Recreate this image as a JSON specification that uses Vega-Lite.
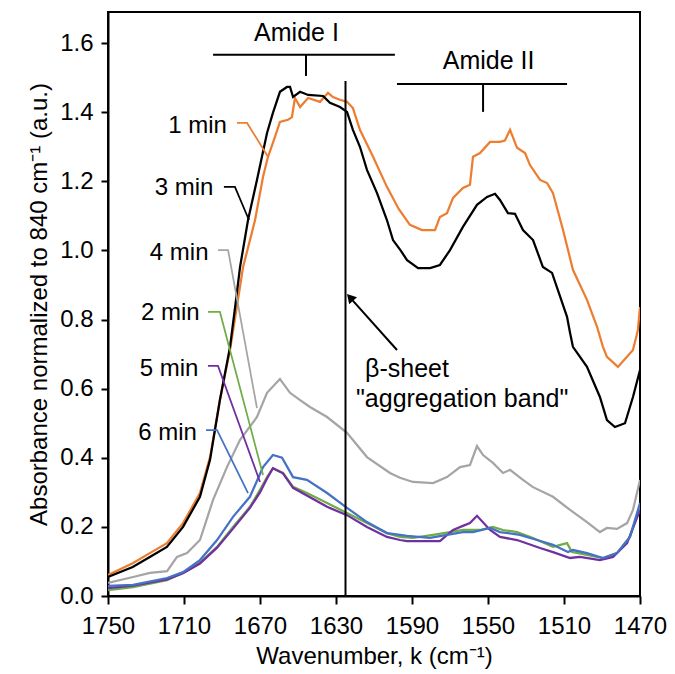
{
  "$schema": "https://vega.github.io/schema/vega-lite/v6.json",
  "width": 532,
  "height": 584,
  "autosize": {"type": "none"},
  "padding": {"left": 108, "top": 12, "right": 35, "bottom": 78},
  "background": "white",
  "config": {
    "font": "Liberation Sans",
    "view": {"stroke": "black", "strokeWidth": 2},
    "axis": {"grid": false, "domainColor": "black", "domainWidth": 2, "tickColor": "black", "tickWidth": 2, "labelColor": "black", "titleColor": "black", "labelFont": "Liberation Sans", "titleFont": "Liberation Sans", "titleFontWeight": "normal"}
  },
  "datasets": {
    "spectra": [
      {"s":"4 min","k":1750,"a":0.038},{"s":"4 min","k":1736.8,"a":0.055},{"s":"4 min","k":1727.9,"a":0.067},{"s":"4 min","k":1718.9,"a":0.072},{"s":"4 min","k":1713.7,"a":0.113},{"s":"4 min","k":1708.4,"a":0.124},{"s":"4 min","k":1701.6,"a":0.162},{"s":"4 min","k":1694.7,"a":0.278},{"s":"4 min","k":1687.4,"a":0.373},{"s":"4 min","k":1680.5,"a":0.452},{"s":"4 min","k":1671.6,"a":0.518},{"s":"4 min","k":1666.3,"a":0.588},{"s":"4 min","k":1659.5,"a":0.628},{"s":"4 min","k":1654.2,"a":0.588},{"s":"4 min","k":1648.9,"a":0.567},{"s":"4 min","k":1643.7,"a":0.547},{"s":"4 min","k":1634.7,"a":0.518},{"s":"4 min","k":1624.2,"a":0.472},{"s":"4 min","k":1613.7,"a":0.402},{"s":"4 min","k":1601.6,"a":0.356},{"s":"4 min","k":1596.3,"a":0.342},{"s":"4 min","k":1589.5,"a":0.33},{"s":"4 min","k":1578.9,"a":0.327},{"s":"4 min","k":1571.6,"a":0.344},{"s":"4 min","k":1564.7,"a":0.373},{"s":"4 min","k":1559.5,"a":0.379},{"s":"4 min","k":1555.8,"a":0.434},{"s":"4 min","k":1552.6,"a":0.408},{"s":"4 min","k":1547.4,"a":0.385},{"s":"4 min","k":1542.1,"a":0.356},{"s":"4 min","k":1538.4,"a":0.365},{"s":"4 min","k":1531.6,"a":0.336},{"s":"4 min","k":1526.3,"a":0.315},{"s":"4 min","k":1515.8,"a":0.287},{"s":"4 min","k":1506.8,"a":0.249},{"s":"4 min","k":1497.9,"a":0.214},{"s":"4 min","k":1491.1,"a":0.185},{"s":"4 min","k":1487.4,"a":0.197},{"s":"4 min","k":1482.1,"a":0.194},{"s":"4 min","k":1476.8,"a":0.211},{"s":"4 min","k":1473.7,"a":0.249},{"s":"4 min","k":1470,"a":0.336},
      {"s":"2 min","k":1750,"a":0.017},{"s":"2 min","k":1736.8,"a":0.026},{"s":"2 min","k":1718.9,"a":0.046},{"s":"2 min","k":1710.5,"a":0.067},{"s":"2 min","k":1701.6,"a":0.096},{"s":"2 min","k":1692.6,"a":0.142},{"s":"2 min","k":1684.2,"a":0.2},{"s":"2 min","k":1675.3,"a":0.258},{"s":"2 min","k":1670,"a":0.307},{"s":"2 min","k":1666.3,"a":0.344},{"s":"2 min","k":1663.2,"a":0.37},{"s":"2 min","k":1657.9,"a":0.356},{"s":"2 min","k":1652.6,"a":0.316},{"s":"2 min","k":1645.3,"a":0.298},{"s":"2 min","k":1634.7,"a":0.269},{"s":"2 min","k":1624.2,"a":0.24},{"s":"2 min","k":1613.7,"a":0.211},{"s":"2 min","k":1603.2,"a":0.182},{"s":"2 min","k":1596.3,"a":0.171},{"s":"2 min","k":1589.5,"a":0.168},{"s":"2 min","k":1578.9,"a":0.177},{"s":"2 min","k":1570,"a":0.185},{"s":"2 min","k":1563.2,"a":0.191},{"s":"2 min","k":1554.2,"a":0.191},{"s":"2 min","k":1547.4,"a":0.2},{"s":"2 min","k":1542.1,"a":0.191},{"s":"2 min","k":1534.7,"a":0.185},{"s":"2 min","k":1526.3,"a":0.168},{"s":"2 min","k":1515.8,"a":0.142},{"s":"2 min","k":1508.4,"a":0.153},{"s":"2 min","k":1505.8,"a":0.127},{"s":"2 min","k":1497.9,"a":0.119},{"s":"2 min","k":1489.5,"a":0.11},{"s":"2 min","k":1482.1,"a":0.124},{"s":"2 min","k":1475.3,"a":0.171},{"s":"2 min","k":1470,"a":0.258},
      {"s":"5 min","k":1750,"a":0.023},{"s":"5 min","k":1736.8,"a":0.03},{"s":"5 min","k":1718.9,"a":0.048},{"s":"5 min","k":1710.5,"a":0.066},{"s":"5 min","k":1701.6,"a":0.094},{"s":"5 min","k":1692.6,"a":0.14},{"s":"5 min","k":1684.2,"a":0.195},{"s":"5 min","k":1675.3,"a":0.255},{"s":"5 min","k":1670,"a":0.3},{"s":"5 min","k":1666.3,"a":0.34},{"s":"5 min","k":1663.2,"a":0.37},{"s":"5 min","k":1657.9,"a":0.355},{"s":"5 min","k":1652.6,"a":0.313},{"s":"5 min","k":1634.7,"a":0.258},{"s":"5 min","k":1624.2,"a":0.234},{"s":"5 min","k":1613.7,"a":0.2},{"s":"5 min","k":1603.2,"a":0.171},{"s":"5 min","k":1596.3,"a":0.162},{"s":"5 min","k":1592.6,"a":0.159},{"s":"5 min","k":1575.3,"a":0.159},{"s":"5 min","k":1568.4,"a":0.191},{"s":"5 min","k":1563.2,"a":0.203},{"s":"5 min","k":1559.5,"a":0.211},{"s":"5 min","k":1555.8,"a":0.232},{"s":"5 min","k":1548.9,"a":0.191},{"s":"5 min","k":1543.7,"a":0.171},{"s":"5 min","k":1534.7,"a":0.162},{"s":"5 min","k":1522.6,"a":0.139},{"s":"5 min","k":1515.8,"a":0.127},{"s":"5 min","k":1506.8,"a":0.11},{"s":"5 min","k":1501.6,"a":0.113},{"s":"5 min","k":1491.1,"a":0.104},{"s":"5 min","k":1484.2,"a":0.113},{"s":"5 min","k":1476.8,"a":0.153},{"s":"5 min","k":1470,"a":0.249},
      {"s":"6 min","k":1750,"a":0.029},{"s":"6 min","k":1736.8,"a":0.032},{"s":"6 min","k":1718.9,"a":0.052},{"s":"6 min","k":1710.5,"a":0.069},{"s":"6 min","k":1701.6,"a":0.104},{"s":"6 min","k":1692.6,"a":0.162},{"s":"6 min","k":1684.2,"a":0.229},{"s":"6 min","k":1675.3,"a":0.287},{"s":"6 min","k":1668.4,"a":0.373},{"s":"6 min","k":1663.2,"a":0.408},{"s":"6 min","k":1658.4,"a":0.4},{"s":"6 min","k":1652.6,"a":0.344},{"s":"6 min","k":1645.3,"a":0.336},{"s":"6 min","k":1634.7,"a":0.298},{"s":"6 min","k":1624.2,"a":0.255},{"s":"6 min","k":1613.7,"a":0.214},{"s":"6 min","k":1603.2,"a":0.182},{"s":"6 min","k":1596.3,"a":0.177},{"s":"6 min","k":1592.6,"a":0.174},{"s":"6 min","k":1580.5,"a":0.168},{"s":"6 min","k":1571.6,"a":0.177},{"s":"6 min","k":1563.2,"a":0.185},{"s":"6 min","k":1557.9,"a":0.185},{"s":"6 min","k":1548.9,"a":0.197},{"s":"6 min","k":1543.7,"a":0.185},{"s":"6 min","k":1533.2,"a":0.177},{"s":"6 min","k":1524.2,"a":0.162},{"s":"6 min","k":1515.8,"a":0.148},{"s":"6 min","k":1507.9,"a":0.127},{"s":"6 min","k":1505.3,"a":0.133},{"s":"6 min","k":1497.9,"a":0.124},{"s":"6 min","k":1489.5,"a":0.11},{"s":"6 min","k":1482.1,"a":0.124},{"s":"6 min","k":1475.3,"a":0.171},{"s":"6 min","k":1470,"a":0.269},
      {"s":"1 min","k":1750,"a":0.061},{"s":"1 min","k":1737,"a":0.095},{"s":"1 min","k":1728,"a":0.124},{"s":"1 min","k":1719,"a":0.153},{"s":"1 min","k":1710.5,"a":0.211},{"s":"1 min","k":1701.6,"a":0.298},{"s":"1 min","k":1696.3,"a":0.402},{"s":"1 min","k":1691.1,"a":0.567},{"s":"1 min","k":1685.8,"a":0.712},{"s":"1 min","k":1682.1,"a":0.84},{"s":"1 min","k":1678.9,"a":0.952},{"s":"1 min","k":1672.6,"a":1.088},{"s":"1 min","k":1668.4,"a":1.213},{"s":"1 min","k":1665.8,"a":1.271},{"s":"1 min","k":1663.2,"a":1.311},{"s":"1 min","k":1659.5,"a":1.372},{"s":"1 min","k":1655.3,"a":1.378},{"s":"1 min","k":1653.2,"a":1.386},{"s":"1 min","k":1651.6,"a":1.441},{"s":"1 min","k":1648.9,"a":1.415},{"s":"1 min","k":1644.7,"a":1.441},{"s":"1 min","k":1638.4,"a":1.43},{"s":"1 min","k":1634.2,"a":1.456},{"s":"1 min","k":1631.6,"a":1.444},{"s":"1 min","k":1627.9,"a":1.436},{"s":"1 min","k":1624.2,"a":1.43},{"s":"1 min","k":1621.1,"a":1.412},{"s":"1 min","k":1617.4,"a":1.349},{"s":"1 min","k":1610.5,"a":1.271},{"s":"1 min","k":1603.2,"a":1.184},{"s":"1 min","k":1597,"a":1.12},{"s":"1 min","k":1591.1,"a":1.074},{"s":"1 min","k":1584.7,"a":1.059},{"s":"1 min","k":1577.9,"a":1.059},{"s":"1 min","k":1575.3,"a":1.097},{"s":"1 min","k":1571.6,"a":1.108},{"s":"1 min","k":1568.4,"a":1.152},{"s":"1 min","k":1563.2,"a":1.181},{"s":"1 min","k":1559.5,"a":1.19},{"s":"1 min","k":1557.9,"a":1.271},{"s":"1 min","k":1554.2,"a":1.282},{"s":"1 min","k":1548.9,"a":1.314},{"s":"1 min","k":1543.7,"a":1.314},{"s":"1 min","k":1541.1,"a":1.318},{"s":"1 min","k":1538.4,"a":1.349},{"s":"1 min","k":1534.7,"a":1.297},{"s":"1 min","k":1530.5,"a":1.282},{"s":"1 min","k":1527.9,"a":1.247},{"s":"1 min","k":1522.6,"a":1.204},{"s":"1 min","k":1518.9,"a":1.195},{"s":"1 min","k":1515.8,"a":1.166},{"s":"1 min","k":1510.5,"a":1.059},{"s":"1 min","k":1505.3,"a":0.944},{"s":"1 min","k":1497.9,"a":0.857},{"s":"1 min","k":1492.6,"a":0.779},{"s":"1 min","k":1489.5,"a":0.721},{"s":"1 min","k":1487.4,"a":0.692},{"s":"1 min","k":1481.6,"a":0.663},{"s":"1 min","k":1473.7,"a":0.712},{"s":"1 min","k":1471.1,"a":0.77},{"s":"1 min","k":1470,"a":0.836},
      {"s":"3 min","k":1750,"a":0.055},{"s":"3 min","k":1737,"a":0.084},{"s":"3 min","k":1728,"a":0.113},{"s":"3 min","k":1719,"a":0.142},{"s":"3 min","k":1710.5,"a":0.2},{"s":"3 min","k":1701.6,"a":0.287},{"s":"3 min","k":1696.3,"a":0.394},{"s":"3 min","k":1691.1,"a":0.567},{"s":"3 min","k":1685.8,"a":0.72},{"s":"3 min","k":1683,"a":0.84},{"s":"3 min","k":1680.5,"a":0.952},{"s":"3 min","k":1676.3,"a":1.088},{"s":"3 min","k":1671.6,"a":1.204},{"s":"3 min","k":1666.3,"a":1.34},{"s":"3 min","k":1663.2,"a":1.398},{"s":"3 min","k":1659.5,"a":1.459},{"s":"3 min","k":1655.8,"a":1.473},{"s":"3 min","k":1654.2,"a":1.473},{"s":"3 min","k":1652.6,"a":1.444},{"s":"3 min","k":1648.9,"a":1.459},{"s":"3 min","k":1644.7,"a":1.45},{"s":"3 min","k":1636.8,"a":1.447},{"s":"3 min","k":1633.2,"a":1.427},{"s":"3 min","k":1627.9,"a":1.415},{"s":"3 min","k":1624.2,"a":1.401},{"s":"3 min","k":1621.1,"a":1.349},{"s":"3 min","k":1617.4,"a":1.3},{"s":"3 min","k":1613.7,"a":1.233},{"s":"3 min","k":1608.4,"a":1.166},{"s":"3 min","k":1603.2,"a":1.088},{"s":"3 min","k":1600,"a":1.03},{"s":"3 min","k":1596,"a":1.0},{"s":"3 min","k":1592.6,"a":0.972},{"s":"3 min","k":1586.8,"a":0.949},{"s":"3 min","k":1580.5,"a":0.949},{"s":"3 min","k":1575.3,"a":0.958},{"s":"3 min","k":1570,"a":1.001},{"s":"3 min","k":1563.2,"a":1.068},{"s":"3 min","k":1555.8,"a":1.132},{"s":"3 min","k":1550.5,"a":1.155},{"s":"3 min","k":1546.3,"a":1.164},{"s":"3 min","k":1543.7,"a":1.146},{"s":"3 min","k":1539.5,"a":1.108},{"s":"3 min","k":1535.8,"a":1.106},{"s":"3 min","k":1531.6,"a":1.059},{"s":"3 min","k":1526.3,"a":1.03},{"s":"3 min","k":1521.1,"a":0.952},{"s":"3 min","k":1516.3,"a":0.935},{"s":"3 min","k":1508.4,"a":0.808},{"s":"3 min","k":1506.8,"a":0.761},{"s":"3 min","k":1505.3,"a":0.721},{"s":"3 min","k":1497.9,"a":0.663},{"s":"3 min","k":1491.1,"a":0.576},{"s":"3 min","k":1487.4,"a":0.509},{"s":"3 min","k":1483.2,"a":0.489},{"s":"3 min","k":1477.9,"a":0.5},{"s":"3 min","k":1473.7,"a":0.576},{"s":"3 min","k":1470,"a":0.654}
    ],
    "leaders": [
      {"s":"1 min","i":0,"k":1682.1,"a":1.369},{"s":"1 min","i":1,"k":1676.8,"a":1.369},{"s":"1 min","i":2,"k":1665.8,"a":1.271},
      {"s":"3 min","i":0,"k":1689,"a":1.184},{"s":"3 min","i":1,"k":1683.2,"a":1.184},{"s":"3 min","i":2,"k":1675.8,"a":1.088},
      {"s":"4 min","i":0,"k":1692.1,"a":1.001},{"s":"4 min","i":1,"k":1686.8,"a":1.001},{"s":"4 min","i":2,"k":1671.6,"a":0.544},
      {"s":"2 min","i":0,"k":1697.4,"a":0.822},{"s":"2 min","i":1,"k":1691.1,"a":0.822},{"s":"2 min","i":2,"k":1668.4,"a":0.35},
      {"s":"5 min","i":0,"k":1697.4,"a":0.666},{"s":"5 min","i":1,"k":1692.1,"a":0.666},{"s":"5 min","i":2,"k":1670,"a":0.33},
      {"s":"6 min","i":0,"k":1698.4,"a":0.48},{"s":"6 min","i":1,"k":1692.6,"a":0.48},{"s":"6 min","i":2,"k":1676.3,"a":0.298}
    ],
    "labels": [
      {"t":"1 min","k":1687.4,"a":1.34},
      {"t":"3 min","k":1694.5,"a":1.161},
      {"t":"4 min","k":1697.1,"a":0.972},
      {"t":"2 min","k":1701.8,"a":0.798},
      {"t":"5 min","k":1702.4,"a":0.637},
      {"t":"6 min","k":1703.2,"a":0.452}
    ],
    "rules": [
      {"k":1694.7,"k2":1599,"a":1.566,"a2":1.566},
      {"k":1645.8,"k2":1645.8,"a":1.566,"a2":1.505},
      {"k":1597.9,"k2":1508.4,"a":1.482,"a2":1.482},
      {"k":1552.6,"k2":1552.6,"a":1.482,"a2":1.401},
      {"k":1625,"k2":1625,"a":0,"a2":1.49},
      {"k":1597.9,"k2":1621.5,"a":0.712,"a2":0.857}
    ],
    "amide": [
      {"t":"Amide I","k":1650.8,"a":1.606},
      {"t":"Amide II","k":1549.7,"a":1.525}
    ],
    "note": [
      {"t":"β-sheet","k":1614.7,"a":0.635},
      {"t":"\"aggregation band\"","k":1619.5,"a":0.548}
    ],
    "head": [{"k":1622.6,"a":0.864}],
    "minor": [
      {"k":1740},{"k":1730},{"k":1720},{"k":1710},{"k":1700},{"k":1690},{"k":1680},{"k":1670},{"k":1660},{"k":1650},{"k":1640},{"k":1630},{"k":1620},{"k":1610},{"k":1600},{"k":1590},{"k":1580},{"k":1570},{"k":1560},{"k":1550},{"k":1540},{"k":1530},{"k":1520},{"k":1510},{"k":1500},{"k":1490},{"k":1480}
    ]
  },
  "encoding": {
    "x": {"field": "k", "type": "quantitative", "scale": {"domain": [1470, 1750], "reverse": true, "nice": false, "zero": false},
      "axis": {"values": [1750, 1710, 1670, 1630, 1590, 1550, 1510, 1470], "format": "d", "title": "Wavenumber, k (cm⁻¹)", "labelFontSize": 24, "titleFontSize": 24, "tickSize": 8, "labelPadding": 10, "titlePadding": 6, "labelFlush": false, "labelOverlap": false}},
    "y": {"field": "a", "type": "quantitative", "scale": {"domain": [0, 1.69], "nice": false, "zero": true},
      "axis": {"values": [0, 0.2, 0.4, 0.6, 0.8, 1.0, 1.2, 1.4, 1.6], "format": ".1f", "title": "Absorbance normalized to 840 cm⁻¹ (a.u.)", "labelFontSize": 24, "titleFontSize": 24, "tickSize": 7, "labelPadding": 8, "titlePadding": 8, "labelFlush": false, "labelOverlap": false}}
  },
  "layer": [
    {
      "data": {"name": "spectra"},
      "mark": {"type": "line", "strokeWidth": 2.25, "clip": true},
      "encoding": {
        "color": {"field": "s", "type": "nominal", "legend": null,
          "scale": {"domain": ["1 min", "2 min", "3 min", "4 min", "5 min", "6 min"], "range": ["#ED7D31", "#70AD47", "#000000", "#A5A5A5", "#7030A0", "#4472C4"]}}
      }
    },
    {
      "data": {"name": "leaders"},
      "mark": {"type": "line", "strokeWidth": 1.75},
      "encoding": {
        "order": {"field": "i", "type": "quantitative"},
        "color": {"field": "s", "type": "nominal", "legend": null}
      }
    },
    {
      "data": {"name": "labels"},
      "mark": {"type": "text", "align": "right", "baseline": "alphabetic", "fontSize": 24, "color": "black"},
      "encoding": {
        "text": {"field": "t"}
      }
    },
    {
      "data": {"name": "rules"},
      "mark": {"type": "rule", "strokeWidth": 2, "color": "black"},
      "encoding": {
        "x2": {"field": "k2"},
        "y2": {"field": "a2"}
      }
    },
    {
      "data": {"name": "minor"},
      "mark": {"type": "rule", "strokeWidth": 2, "color": "black"},
      "encoding": {
        "y": {"datum": 0},
        "y2": {"datum": 0.016}
      }
    },
    {
      "data": {"name": "head"},
      "mark": {"type": "point", "shape": "triangle-up", "filled": true, "color": "black", "size": 110, "angle": 318, "opacity": 1}
    },
    {
      "data": {"name": "amide"},
      "mark": {"type": "text", "align": "center", "baseline": "alphabetic", "fontSize": 25, "color": "black"},
      "encoding": {
        "text": {"field": "t"}
      }
    },
    {
      "data": {"name": "note"},
      "mark": {"type": "text", "align": "left", "baseline": "alphabetic", "fontSize": 25, "color": "black"},
      "encoding": {
        "text": {"field": "t"}
      }
    }
  ]
}
